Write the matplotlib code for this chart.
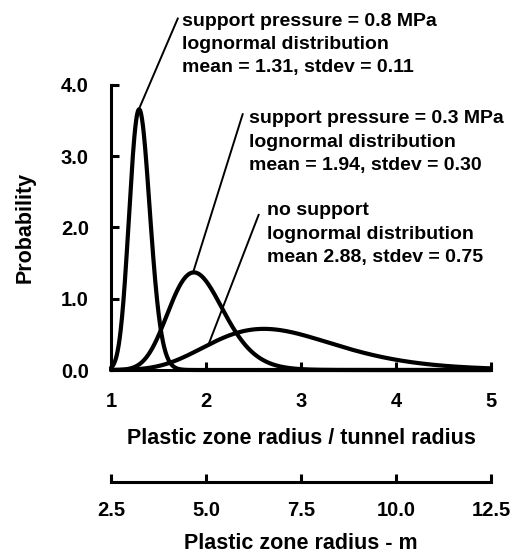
import numpy as np
import matplotlib
matplotlib.use("Agg")
import matplotlib.pyplot as plt

plt.rcParams['font.family'] = ['Liberation Sans', 'DejaVu Sans']

# ---- data ----
cases = ["support pressure = 0.8 MPa", "support pressure = 0.3 MPa", "no support"]
means = [1.31, 1.94, 2.88]
stdevs = [0.11, 0.30, 0.75]
label_lines = [
    ["support pressure = 0.8 MPa", "lognormal distribution", "mean = 1.31, stdev = 0.11"],
    ["support pressure = 0.3 MPa", "lognormal distribution", "mean = 1.94, stdev = 0.30"],
    ["no support", "lognormal distribution", "mean 2.88, stdev = 0.75"],
]
x_ticks = [1, 2, 3, 4, 5]
y_ticks = [0.0, 1.0, 2.0, 3.0, 4.0]
m_ticks = [2.5, 5.0, 7.5, 10.0, 12.5]
tunnel_radius_m = 2.5

def lognormal_pdf(x, mean, sd):
    s2 = np.log(1 + (sd / mean) ** 2)
    mu = np.log(mean) - s2 / 2
    return np.exp(-(np.log(x) - mu) ** 2 / (2 * s2)) / (x * np.sqrt(2 * np.pi * s2))

FS = 14.5
LFS = 15.5
fig = plt.figure(figsize=(5.16, 5.58), dpi=100)
W, H = 516, 558
x0p, x1p, y0p, y1p = 111, 491, 370, 85
ax = fig.add_axes([x0p / W, (H - y0p) / H, (x1p - x0p) / W, (y0p - y1p) / H])
ax.set_xlim(1, 5)
ax.set_ylim(0, 4)

xs = np.linspace(1.0, 5.0, 800)
for m, s in zip(means, stdevs):
    ax.plot(xs, lognormal_pdf(xs, m, s), color='black', lw=3.0, solid_capstyle='round',
            clip_on=False)

for sp in ['top', 'right']:
    ax.spines[sp].set_visible(False)
for sp in ['left', 'bottom']:
    ax.spines[sp].set_linewidth(2.2)
ax.spines['left'].set_bounds(0, 4)
ax.set_xticks(x_ticks)
ax.set_xticklabels([str(v) for v in x_ticks])
ax.set_yticks(y_ticks)
ax.set_yticklabels([f"{v:.1f}" for v in y_ticks])
ax.tick_params(direction='in', length=6, width=2.2, labelsize=FS, pad=16)
ax.tick_params(axis='x', pad=16)
for t in ax.get_xticklabels() + ax.get_yticklabels():
    t.set_fontweight('bold')
ax.set_xlabel("Plastic zone radius / tunnel radius", fontsize=LFS, fontweight='bold', labelpad=12)
ax.set_ylabel("Probability", fontsize=LFS, fontweight='bold', labelpad=18)

# annotations
text_pos = [(1.745, 4.834), (2.449, 3.463), (2.638, 2.171)]
leader_start = [(1.262, 3.562), (1.871, 1.399), (2.029, 0.367)]
leader_end = [(1.703, 4.933), (2.386, 3.590), (2.554, 2.177)]
dy = 23.3 / 71.25
for lines, (tx, ty), (sx, sy), (ex, ey) in zip(label_lines, text_pos, leader_start, leader_end):
    for i, line in enumerate(lines):
        ax.text(tx, ty - i * dy, line, fontsize=14, fontweight='bold', ha='left',
                va='baseline', clip_on=False)
    ax.plot([sx, ex], [sy, ey], color='black', lw=1.4, clip_on=False)

# second axis (metres)
ax2 = fig.add_axes([x0p / W, (H - 482) / H, (x1p - x0p) / W, 0.001])
ax2.set_xlim(1 * tunnel_radius_m, 5 * tunnel_radius_m)
ax2.patch.set_visible(False)
for sp in ['top', 'right', 'left']:
    ax2.spines[sp].set_visible(False)
ax2.spines['bottom'].set_linewidth(2.2)
ax2.set_yticks([])
ax2.set_xticks(m_ticks)
ax2.set_xticklabels([f"{v:.1f}" for v in m_ticks])
ax2.tick_params(axis='x', direction='in', length=6, width=2.2, labelsize=FS, pad=14)
for t in ax2.get_xticklabels():
    t.set_fontweight('bold')
ax2.set_xlabel("Plastic zone radius - m", fontsize=LFS, fontweight='bold', labelpad=9)

fig.savefig("out.png", dpi=100)
